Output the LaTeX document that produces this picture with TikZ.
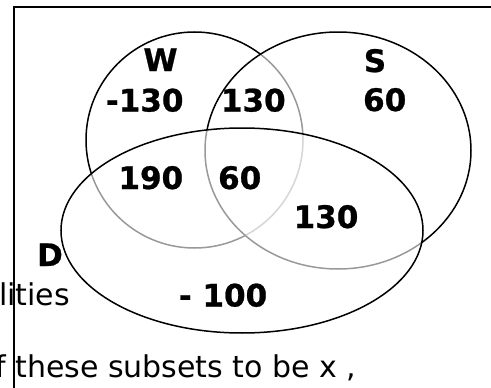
\documentclass[tikz,border=0pt]{standalone}
\usepackage{fontspec}
\setmainfont{DejaVu Sans}
\newfontfamily\heavyfont[FakeBold=0.8]{DejaVu Sans Bold}
\begin{document}
\begin{tikzpicture}[x=1pt,y=-1pt,
  lbl/.style={font=\fontsize{31}{31}\heavyfont, anchor=base, inner sep=0pt},
  txt/.style={font=\fontsize{30}{30}\selectfont, anchor=base west, inner sep=0pt},
  setline/.style={draw=black, line width=1.5pt},
  veil/.style={setline, fill=white, fill opacity=0.6},
  frame/.style={draw=black, line width=2pt}]
\useasboundingbox (0,0) rectangle (491,388);
% background text fragments
\node[txt] (t1) at (-1,305) {lities};
\node[txt] (t2) at (-5,377) {f these subsets to be x ,};
% frame
\coordinate (fb) at (14,389);
\coordinate (fc) at (14,7);
\coordinate (fr) at (492,7);
\draw[frame] (fb) -- (fc) -- (fr);
% sets
\draw[setline] (194.5,140) ellipse [x radius=108.5, y radius=108];
\draw[veil] (338,150.5) ellipse [x radius=133, y radius=118.5];
\draw[veil] (242,230.5) ellipse [x radius=181, y radius=102.5];
% labels
\node[lbl] (W) at (160.5,71) {W};
\node[lbl] (S) at (375,72) {S};
\node[lbl] (D) at (50,266) {D};
\node[lbl] (w) at (144.7,111.5) {-130};
\node[lbl] (ws) at (253.3,111.5) {130};
\node[lbl] (s) at (384.7,111) {60};
\node[lbl] (wd) at (150.8,189) {190};
\node[lbl] (wsd) at (239.7,189) {60};
\node[lbl] (sd) at (326,228) {130};
\node[lbl] (d) at (223,306.5) {- 100};
\end{tikzpicture}
\end{document}
